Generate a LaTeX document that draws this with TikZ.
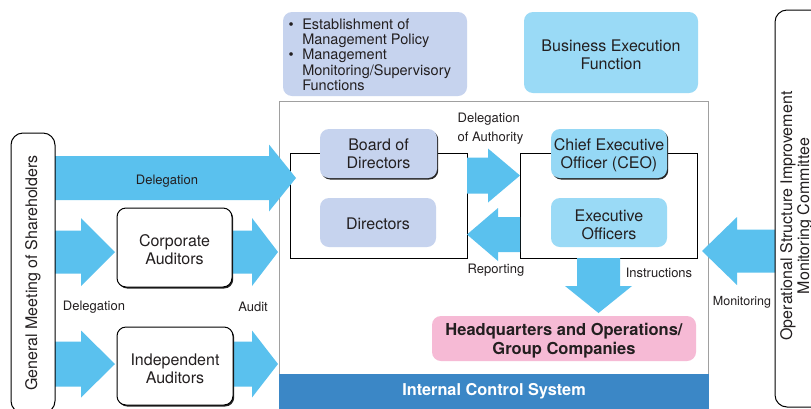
\documentclass[tikz,border=0pt]{standalone}
\usepackage{fontspec}
\setmainfont{TeX Gyre Heros}
\usetikzlibrary{calc,shadows}
\definecolor{lav}{HTML}{C6D3EE}
\definecolor{lblue}{HTML}{9ADAF6}
\definecolor{ceob}{HTML}{95D8F5}
\definecolor{arrowb}{HTML}{5AC1EE}
\definecolor{barb}{HTML}{3B87C6}
\definecolor{pinkf}{HTML}{F6BAD5}
\definecolor{txt}{HTML}{231F20}
\definecolor{frameg}{HTML}{A0A0A0}
\tikzset{
 box/.style={rounded corners=9pt, inner sep=0pt},
 btxt/.style={inner sep=0pt, align=center, font=\fontsize{16}{18}\selectfont, text=txt, yshift=-2pt},
 bbtxt/.style={btxt, font=\bfseries\fontsize{16.5}{19}\selectfont},
 sq/.style={draw=black, line width=1pt, inner sep=0pt},
 shad/.style={drop shadow={shadow xshift=1.2pt, shadow yshift=-1.5pt, fill=black!85, opacity=1}},
 lbl/.style={font=\fontsize{13}{18}\selectfont, text=txt, inner sep=0pt},
 arrowfill/.style={fill=arrowb},
}
\newcommand\blockarrow[5]{%
  \coordinate (baH) at ($(#2)!#5!(#1)$);
  \fill[arrowfill] ($(#1)!#3!90:(#2)$) -- ($(baH)!#3!90:(#2)$) -- ($(baH)!#4!90:(#2)$) -- (#2)
   -- ($(baH)!#4!-90:(#2)$) -- ($(baH)!#3!-90:(#2)$) -- ($(#1)!#3!-90:(#2)$) -- cycle;
}
\begin{document}
\begin{tikzpicture}[x=1pt,y=-1pt]
\useasboundingbox (0,0) rectangle (811,408);
\fill[white] (0,0) rectangle (811,408);
\clip (0,0) rectangle (811,408);

% main frame
\node[draw=frameg, line width=1pt, fill=white, minimum width=429, minimum height=310, inner sep=0] (frame) at (493.5,256) {};
\node[fill=barb, minimum width=430, minimum height=36, inner sep=0, font=\bfseries\fontsize{16.3}{18}\selectfont, text=white] (ics) at (494,391.5) {Internal Control System};

% top boxes
\node[box, fill=lav, minimum width=184, minimum height=84] (mgmt) at (375,54) {};
\node[anchor=west, inner sep=0, text=txt, font=\fontsize{14.5}{15}\selectfont] (mgmtt) at (288.5,57) {%
\begin{tabular}{@{}l@{\hspace{8.5pt}}l@{}}
\textbullet & Establishment of\\
 & Management Policy\\
\textbullet & Management\\
 & Monitoring/Supervisory\\
 & Functions
\end{tabular}};
\node[box, fill=lblue, minimum width=174, minimum height=81, label={[btxt]center:{Business Execution\\Function}}] (bef) at (611,52.5) {};

% inner frames
\node[sq, minimum width=177, minimum height=105] (lbox) at (378.5,205.5) {};
\node[sq, minimum width=177, minimum height=105] (rbox) at (608.5,205.5) {};

% block arrows
\blockarrow{55,178}{296,178}{22pt}{33.5pt}{27pt}
\blockarrow{55,252}{115,252}{21.5pt}{34pt}{34pt}
\blockarrow{232,252}{278,252}{21.5pt}{34pt}{26pt}
\blockarrow{55,364}{115,364}{22.5pt}{33.5pt}{34pt}
\blockarrow{233,364}{278,364}{22.5pt}{33.5pt}{26pt}
\blockarrow{467,175.5}{520,175.5}{18pt}{27pt}{32pt}
\blockarrow{520,234.5}{467,234.5}{17.5pt}{26.5pt}{31pt}
\blockarrow{598.5,258}{598.5,313}{21.5pt}{33.5pt}{27pt}
\blockarrow{775,251}{702,251}{21.5pt}{34pt}{35pt}

% inner boxes
\node[box, fill=lav, shad, minimum width=117, minimum height=49, label={[btxt, yshift=1.5pt]center:{Board of\\Directors}}] (bod) at (378.5,153.5) {};
\node[box, fill=lav, minimum width=116, minimum height=49, label={[btxt, yshift=1pt]center:{Directors}}] (dirs) at (378,222.5) {};
\node[box, fill=ceob, shad, minimum width=116, minimum height=49, label={[btxt]center:{Chief Executive\\Officer (CEO)}}] (ceo) at (609,153.5) {};
\node[box, fill=lblue, minimum width=116, minimum height=49, label={[btxt]center:{Executive\\Officers}}] (exo) at (609,222.5) {};
\node[box, fill=pinkf, minimum width=264, minimum height=45, label={[bbtxt]center:{Headquarters and Operations/\\Group Companies}}] (hq) at (564,338.5) {};

% auditors
\node[box, draw=black, line width=1pt, fill=white, shad, minimum width=115, minimum height=79, label={[btxt]center:{Corporate\\Auditors}}] (ca) at (174.5,247.5) {};
\node[box, draw=black, line width=1pt, fill=white, shad, minimum width=116, minimum height=78, label={[btxt, yshift=-0.5pt]center:{Independent\\Auditors}}] (ia) at (175,366) {};

% side boxes
\node[draw=black, line width=1pt, rounded corners=12pt, minimum width=44, minimum height=280, inner sep=0] (gms) at (33,273) {};
\node[rotate=90, inner sep=0, text=txt, font=\fontsize{16}{18}\selectfont] (gmst) at (gms.center) {General Meeting of Shareholders};
\node[draw=black, line width=1pt, rounded corners=12pt, minimum width=60, minimum height=397, inner sep=0] (osimc) at (805,208.5) {};
\node[rotate=90, inner sep=0, align=center, text=txt, font=\fontsize{16}{17}\selectfont] (osimct) at (796.5,216) {Operational Structure Improvement\\Monitoring Committee};

% labels
\node[lbl] (l1) at (167,181) {Delegation};
\node[lbl] (l2) at (94,307) {Delegation};
\node[lbl] (l3) at (253,307) {Audit};
\node[lbl, align=left, anchor=west, font=\fontsize{13}{18.5}\selectfont] (l4) at (457.5,128.5) {Delegation\\of Authority};
\node[lbl] (l5) at (496,270) {Reporting};
\node[lbl] (l6) at (659,273) {Instructions};
\node[lbl, font=\fontsize{12.5}{18}\selectfont] (l7) at (742,302) {Monitoring};
\end{tikzpicture}
\end{document}
